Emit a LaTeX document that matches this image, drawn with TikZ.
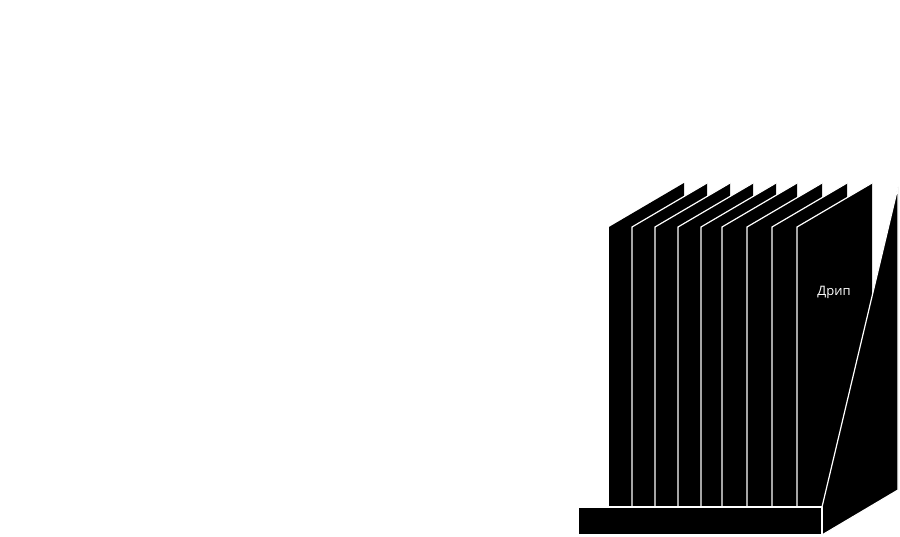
\documentclass[tikz,border=0pt]{standalone}
\usepackage{fontspec}
\setmainfont{Open Sans}
\begin{document}
\begin{tikzpicture}[x=1pt,y=-1pt,edge/.style={draw=white,line width=1.2pt,fill=black,line join=round},wl/.style={white,line width=1.2pt}]
\useasboundingbox (0,0) rectangle (900,537);
\fill[black] (609,507) -- (609,227) -- (684,183) -- (684,507) -- cycle;
\foreach \x in {632,655,678,701,722,747,772}{
  \fill[black] (\x,507) -- (\x,227) -- (\x+75,183) -- (\x+75,507) -- cycle;
  \draw[wl] (\x,507) -- (\x,227) -- (\x+75,183);
}
\fill[black] (797,507) -- (797,227) -- (872,183) -- (872,400) -- (822,507) -- cycle;
\draw[wl] (797,507) -- (797,227) -- (872,183);
\path[edge] (822,507) -- (898,187) -- (898,490) -- (822,535) -- cycle;
\path[edge] (578,507) rectangle (822,535);
\node[text=white,font=\fontsize{13}{15}\selectfont] (t) at (834,292) {Дрип};
\end{tikzpicture}
\end{document}
